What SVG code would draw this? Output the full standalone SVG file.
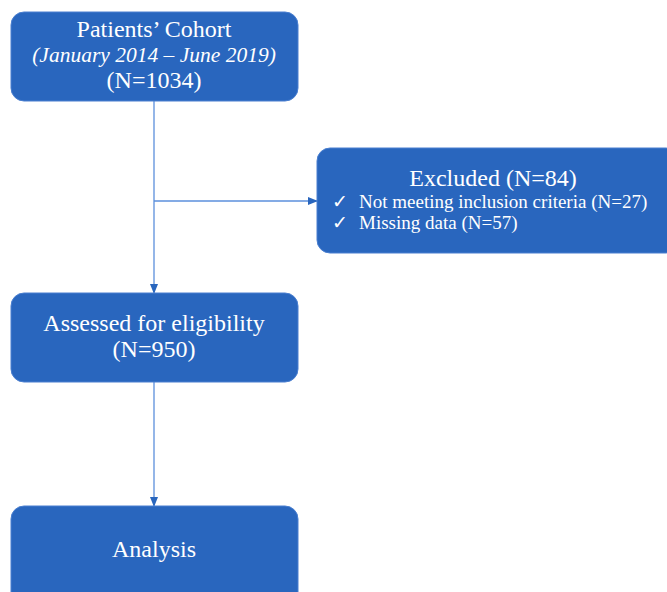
<svg xmlns="http://www.w3.org/2000/svg" width="667" height="592" viewBox="0 0 667 592">
<style>
.box{fill:#2966BE;stroke:#4A7FD0;stroke-width:1}
.t{font-family:"Liberation Serif","Times New Roman",serif;fill:#fff;font-size:24px;text-anchor:middle}
.i{font-style:italic;font-size:21.5px}
.s{font-family:"Liberation Serif","Times New Roman",serif;fill:#fff;font-size:19px}
.c{stroke:#5B8FDC;stroke-width:1.3;fill:none}
</style>
<defs>
<marker id="ah" markerWidth="10" markerHeight="8" refX="9" refY="4" orient="auto" markerUnits="userSpaceOnUse">
<path d="M0,0 L10,4 L0,8 Z" fill="#2966BE"/>
</marker>
</defs>
<rect width="667" height="592" fill="#fff"/>
<g id="connectors">
<line class="c" x1="154" y1="101" x2="154" y2="293" marker-end="url(#ah)"/>
<line class="c" x1="154" y1="201" x2="317" y2="201" marker-end="url(#ah)"/>
<line class="c" x1="154" y1="382" x2="154" y2="506" marker-end="url(#ah)"/>
</g>
<g id="cohort">
<rect class="box" x="11" y="12" width="287" height="89" rx="13"/>
<text class="t" x="154" y="37">Patients’ Cohort</text>
<text class="t i" x="154" y="62">(January 2014 – June 2019)</text>
<text class="t" x="154" y="88">(N=1034)</text>
</g>
<g id="excluded">
<rect class="box" x="317" y="148" width="362" height="105" rx="13"/>
<text class="t" x="493" y="186">Excluded (N=84)</text>
<text class="s" x="332" y="208">✓</text>
<text class="s" x="359" y="208">Not meeting inclusion criteria (N=27)</text>
<text class="s" x="332" y="229">✓</text>
<text class="s" x="359" y="229">Missing data (N=57)</text>
</g>
<g id="assessed">
<rect class="box" x="11" y="293" width="287" height="89" rx="13"/>
<text class="t" x="154" y="331">Assessed for eligibility</text>
<text class="t" x="154" y="357">(N=950)</text>
</g>
<g id="analysis">
<rect class="box" x="11" y="506" width="287" height="100" rx="13"/>
<text class="t" x="154" y="557">Analysis</text>
</g>
</svg>
